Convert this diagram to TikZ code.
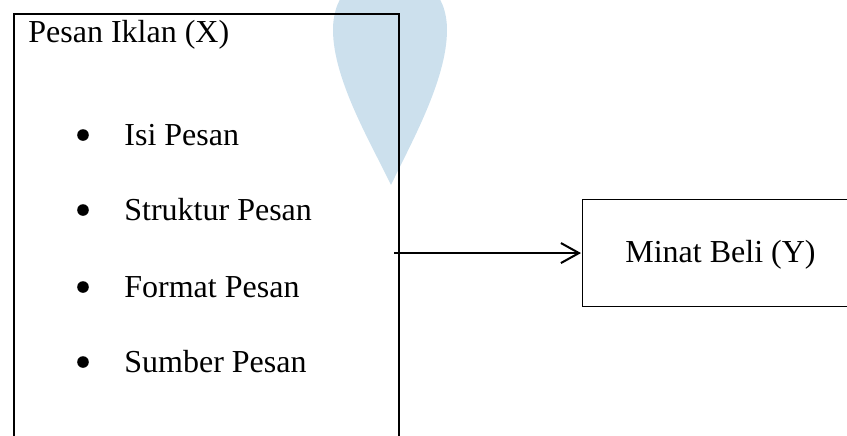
\documentclass[tikz,border=0pt]{standalone}
\usepackage{fontspec}
\setmainfont{Liberation Serif}
\usetikzlibrary{arrows.meta}
\definecolor{wmblue}{RGB}{204,224,237}
\tikzset{
  lbl/.style={anchor=base west, inner sep=0pt, font=\fontsize{16}{19}\selectfont},
  bigbox/.style={draw, line width=1pt, anchor=north west, inner sep=0pt, minimum width=192.5pt, minimum height=230pt},
  smallbox/.style={draw, line width=0.55pt, anchor=north west, inner sep=0pt, minimum width=150pt, minimum height=53.5pt},
  bulletdot/.style={fill=black, circle, inner sep=0pt, minimum size=5.8pt},
  link/.style={line width=1pt, -{Straight Barb[length=9pt,width=10pt,line width=1pt]}}
}
\begin{document}
\begin{tikzpicture}[x=0.5pt,y=-0.5pt]
\useasboundingbox (0,0) rectangle (847,435);
\clip (0,0) rectangle (847,435);
% watermark
\fill[wmblue] (391,185) .. controls (372,145) and (333,80) .. (333,30)
  .. controls (333,-8) and (358,-28) .. (390,-28)
  .. controls (422,-28) and (447,-8) .. (447,30)
  .. controls (447,80) and (410,145) .. (391,185) -- cycle;
% boxes
\node[bigbox] (X) at (13,13) {};
\node[smallbox] (Y) at (582,199) {};
% texts
\node[lbl] (xt) at (28,42) {Pesan Iklan (X)};
\node[bulletdot] (b1) at (83,135) {};
\node[bulletdot] (b2) at (83,210) {};
\node[bulletdot] (b3) at (83,287) {};
\node[bulletdot] (b4) at (83,362) {};
\node[lbl] (i1) at (124,145) {Isi Pesan};
\node[lbl] (i2) at (124,220) {Struktur Pesan};
\node[lbl] (i3) at (124,297) {Format Pesan};
\node[lbl] (i4) at (124,372) {Sumber Pesan};
\node[lbl] (yt) at (625,262) {Minat Beli (Y)};
% connector
\coordinate (s) at ([xshift=-3pt]X.east |- Y.west);
\draw[link] (s) -- ([xshift=-0.5pt]Y.west);
\end{tikzpicture}
\end{document}
